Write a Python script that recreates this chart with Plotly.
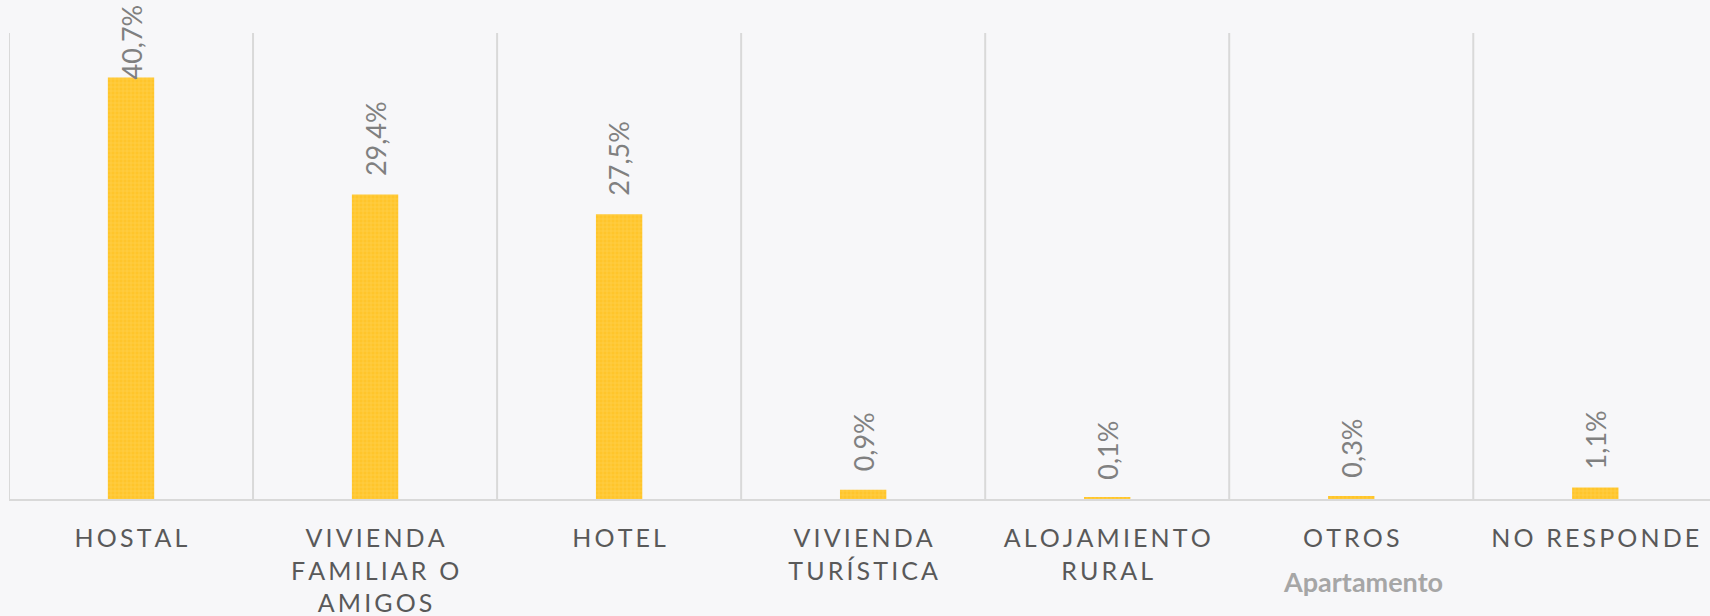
import plotly.graph_objects as go

# Datos
categorias = ["HOSTAL", "VIVIENDA<br>FAMILIAR O<br>AMIGOS", "HOTEL", "VIVIENDA<br>TURÍSTICA",
              "ALOJAMIENTO<br>RURAL", "OTROS", "NO RESPONDE"]
valores = [40.7, 29.4, 27.5, 0.9, 0.1, 0.3, 1.1]
etiquetas = ["40,7%", "29,4%", "27,5%", "0,9%", "0,1%", "0,3%", "1,1%"]
titulo_x = "Apartamento"

W, H = 1710, 616
M_L, M_R, M_T, M_B = 9, 0, 33, 117
Y_MAX = 45


def espaciar(texto):
    # letter spacing like the original, using thin spaces between letters
    lineas = texto.split("<br>")
    return "<br>".join("\u2009".join(list(l)) for l in lineas)


ids = list(range(len(categorias)))
alto_plot = H - M_T - M_B

fig = go.Figure(go.Bar(
    x=ids,
    y=valores,
    width=0.19,
    hoverinfo="skip",
    marker=dict(
        color="#FFC52B",
        line=dict(width=0),
        pattern=dict(shape="+", fgcolor="#FFE07A", bgcolor="#FFC52B", size=4, solidity=0.25),
    ),
))

# data labels: rotated, gap above bar, pushed down when there's no room at top
largo_txt = 72
anotaciones = []
for i, v, t in zip(ids, valores, etiquetas):
    top_px = M_T + alto_plot * (1 - v / Y_MAX)
    bottom = top_px - 16
    if bottom - largo_txt < 10:
        bottom = 10 + largo_txt
    anotaciones.append(dict(
        x=i, y=v, xref="x", yref="y", text=t, textangle=-90,
        showarrow=False, xanchor="center", yanchor="bottom",
        yshift=top_px - bottom,
        font=dict(family="Lato", size=27, color="#808080"),
    ))

anotaciones.append(dict(
    text="<b>" + titulo_x + "</b>",
    xref="paper", yref="paper",
    x=(1363 - M_L) / (W - M_L - M_R), y=-(581 - (H - M_B)) / alto_plot,
    xanchor="center", yanchor="middle",
    showarrow=False,
    font=dict(family="Lato", size=27, color="#A6A6A6"),
))

fig.update_layout(
    width=W, height=H,
    margin=dict(l=M_L, r=M_R, t=M_T, b=M_B),
    paper_bgcolor="#F7F7F9",
    plot_bgcolor="#F7F7F9",
    showlegend=False,
    xaxis=dict(
        tickmode="array",
        tickvals=ids,
        ticktext=[espaciar(c) for c in categorias],
        range=[-0.5, 6.47],
        showgrid=False,
        showline=True,
        linecolor="#D9D9D9",
        linewidth=2,
        ticks="",
        ticklabelstandoff=16,
        tickfont=dict(family="Lato", size=25, color="#595959"),
    ),
    yaxis=dict(range=[0, Y_MAX], visible=False),
    annotations=anotaciones,
)

# category boundary lines
for i in range(len(categorias)):
    fig.add_shape(type="line", xref="x", yref="paper",
                  x0=i - 0.5, x1=i - 0.5, y0=0, y1=1,
                  line=dict(color="#D9D9D9", width=2), layer="below")

fig.write_html("out.html", config={"displayModeBar": False},
               post_script="document.body.style.margin='0';document.body.style.overflow='hidden';")
